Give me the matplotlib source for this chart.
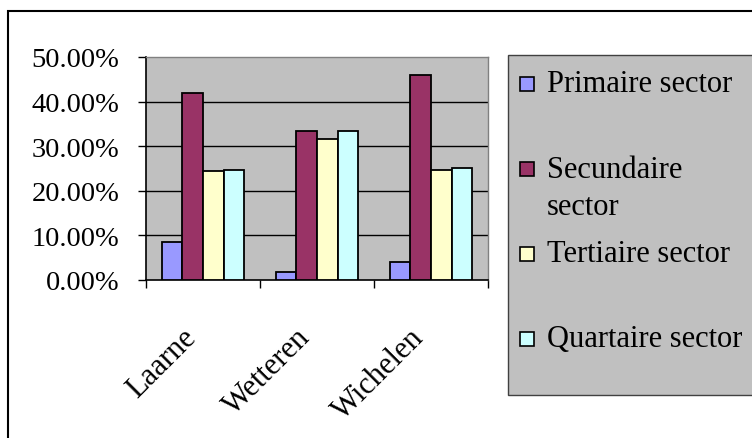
import numpy as np
import matplotlib
matplotlib.use('Agg')
import matplotlib.pyplot as plt
from matplotlib.patches import Rectangle
from matplotlib.ticker import PercentFormatter
from matplotlib import transforms

plt.rcParams['font.family'] = ['Liberation Serif', 'DejaVu Serif']

# data (in %)
gemeenten = ['Laarne', 'Wetteren', 'Wichelen']
sectoren = ['Primaire sector', 'Secundaire\nsector', 'Tertiaire sector', 'Quartaire sector']
primaire = [8.6, 1.9, 4.0]
secundaire = [42.0, 33.4, 46.0]
tertiaire = [24.4, 31.6, 24.7]
quartaire = [24.7, 33.5, 25.2]
kleuren = ['#9999FF', '#993366', '#FFFFCC', '#CCFFFF']
yticks = [0, 10, 20, 30, 40, 50]

W, H = 752, 439
fig = plt.figure(figsize=(W / 100, H / 100), dpi=100)


def fx(x):
    return x / W


def fy(y):
    return 1 - y / H


# outer chart border (runs off the right and bottom edge)
fig.patches.append(Rectangle((fx(8), fy(470)), fx(780) - fx(8), fy(12) - fy(470),
                             transform=fig.transFigure, fill=False,
                             edgecolor='black', linewidth=1.5))

ax = fig.add_axes([fx(146), fy(281), fx(488) - fx(146), fy(58) - fy(281)])
ax.set_facecolor('#C0C0C0')

x = np.arange(len(gemeenten))
w = 0.182
reeksen = [primaire, secundaire, tertiaire, quartaire]
for i, (vals, kleur) in enumerate(zip(reeksen, kleuren)):
    ax.bar(x + (i - 1.5) * w, vals, w, color=kleur, edgecolor='black',
           linewidth=1.3, zorder=3)

# gridlines (not at 0 / 50, those are the borders)
for t in yticks[1:-1]:
    ax.axhline(t, color='black', linewidth=1, zorder=1)

ax.set_xlim(-0.5, len(gemeenten) - 0.5)
ax.set_ylim(yticks[0], yticks[-1])
ax.set_yticks(yticks)
ax.yaxis.set_major_formatter(PercentFormatter(100, decimals=2))
ax.set_xticks(np.arange(len(gemeenten) + 1) - 0.5)
ax.set_xticklabels([])
ax.tick_params(axis='y', direction='out', length=6, width=1, labelsize=20.5, pad=13)
ax.tick_params(axis='x', direction='out', length=6, width=1, colors='black')

for s in ['left', 'bottom']:
    ax.spines[s].set_color('black')
    ax.spines[s].set_linewidth(1.2)
for s in ['top', 'right']:
    ax.spines[s].set_color('#808080')
    ax.spines[s].set_linewidth(1)

# rotated category labels
lab_tr = transforms.offset_copy(ax.get_xaxis_transform(), fig=fig, x=-4.3, y=-41.8, units='points')
for xi, naam in zip(x, gemeenten):
    ax.text(xi, 0, naam, transform=lab_tr, rotation=45, rotation_mode='anchor',
            ha='right', va='baseline', fontsize=22)

# legend box
fig.patches.append(Rectangle((fx(508), fy(396)), fx(780) - fx(508), fy(56) - fy(396),
                             transform=fig.transFigure, facecolor='#C0C0C0',
                             edgecolor='#404040', linewidth=1))
msize = 14
for i, (naam, kleur) in enumerate(zip(sectoren, kleuren)):
    yc = 85 + i * 85
    fig.patches.append(Rectangle((fx(520), fy(yc + msize / 2)), fx(msize), msize / H,
                                 transform=fig.transFigure, facecolor=kleur,
                                 edgecolor='black', linewidth=1.2))
    for j, regel in enumerate(naam.split('\n')):
        fig.text(fx(547), fy(yc + j * 38), regel, fontsize=22, va='center')

fig.savefig('out.png', dpi=100)
